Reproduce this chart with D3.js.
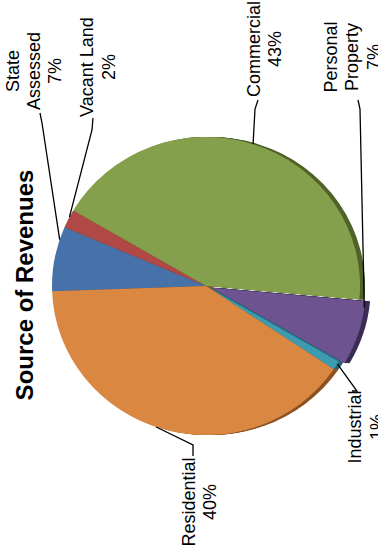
<!DOCTYPE html>
<html>
<head>
<meta charset="utf-8">
<script src="https://cdn.jsdelivr.net/npm/d3@7"></script>
<style>
  html, body { margin: 0; padding: 0; background: #fff; }
  svg { display: block; }
  text { font-family: "Liberation Sans", Arial, sans-serif; fill: #000; }
</style>
</head>
<body>
<svg id="chart" width="378" height="554"></svg>
<script>
// Revenue sources, in clockwise drawing order
const categories = ["State Assessed", "Vacant Land", "Commercial", "Personal Property", "Industrial", "Residential"];
const categoryLines = [["State", "Assessed"], ["Vacant Land"], ["Commercial"], ["Personal", "Property"], ["Industrial"], ["Residential"]];
const shares = [7, 2, 43, 7, 1, 40];
const faceColors = ["#4671a9", "#b04845", "#85a04c", "#6d5390", "#3c9bb0", "#da8841"];
const sideColors = ["#2b4a73", "#762d2b", "#4f6329", "#3b2c57", "#246877", "#8f5222"];
const exploded = ["Personal Property"];
const title = "Source of Revenues";

// Layout
const W = 378, H = 554;
const cx = 206, cy = 286, rx = 154, ry = 149;
const depth = 5;          // visible thickness of the tilted pie, to the right
const explodeBy = 6;
const startDeg = 268;     // d3 angle (clockwise from 12 o'clock) where the first slice starts

// Where each label sits (rotated text): centre along y, baseline x for each line,
// the point where its leader meets the text, a bend just before it, and where on
// the slice (fraction of its sweep) the leader touches the pie.
const labelLayout = {
  "State Assessed":    { y: 71,  xs: [19, 40, 61],  anchor: [40, 113], bend: [42, 123], frac: 0.8 },
  "Vacant Land":       { y: 67,  xs: [93, 115],     anchor: [93, 118], bend: [92, 130], frac: 0.6 },
  "Commercial":        { y: 49,  xs: [260, 281],    anchor: [258, 100], bend: [255, 109], frac: 0.5 },
  "Personal Property": { y: 57,  xs: [337, 358, 380], anchor: [358, 100], bend: [360, 109], frac: 0.1 },
  "Industrial":        { y: 427, xs: [361, 383],    anchor: [352, 391], bend: [357, 391], frac: 0.3 },
  "Residential":       { y: 502, xs: [195, 216],    anchor: [193, 456], bend: [193, 445], frac: 0.52 }
};

const data = categories.map((c, i) => ({
  name: c, lines: categoryLines[i], share: shares[i],
  face: faceColors[i], side: sideColors[i]
}));

const rad = d => d * Math.PI / 180;
const pie = d3.pie().sort(null).value(d => d.share)
  .startAngle(rad(startDeg)).endAngle(rad(startDeg + 360));
const arcs = pie(data);
const arc = d3.arc().innerRadius(0).outerRadius(ry);

const svg = d3.select("#chart");

// offset of a slice pulled out from the centre
function shift(a) {
  if (!exploded.includes(a.data.name)) return [0, 0];
  const m = (a.startAngle + a.endAngle) / 2;
  return [Math.sin(m) * explodeBy, -Math.cos(m) * explodeBy];
}
const sx = rx / ry;

// side walls: stacked copies, shifted right
const sideG = svg.append("g");
for (let k = depth; k >= 1; k--) {
  sideG.selectAll(null).data(arcs).join("path")
    .attr("transform", d => {
      const [ox, oy] = shift(d);
      return `translate(${cx + ox + k},${cy + oy}) scale(${sx},1)`;
    })
    .attr("d", arc)
    .attr("fill", d => d.data.side);
}

// top faces
svg.append("g").selectAll("path").data(arcs).join("path")
  .attr("transform", d => {
    const [ox, oy] = shift(d);
    return `translate(${cx + ox},${cy + oy}) scale(${sx},1)`;
  })
  .attr("d", arc)
  .attr("fill", d => d.data.face);

// leader lines from the slice rim to each label
const line = d3.line();
svg.append("g").selectAll("path").data(arcs).join("path")
  .attr("d", d => {
    const L = labelLayout[d.data.name];
    const a = d.startAngle + (d.endAngle - d.startAngle) * L.frac;
    const [ox, oy] = shift(d);
    const p = [cx + ox + Math.sin(a) * rx, cy + oy - Math.cos(a) * ry];
    return line([p, L.bend, L.anchor]);
  })
  .attr("fill", "none")
  .attr("stroke", "#000")
  .attr("stroke-width", 1.3);

// category labels, rotated to read upwards
const labels = svg.append("g").selectAll("g").data(arcs).join("g");
labels.each(function (d) {
  const L = labelLayout[d.data.name];
  const rows = d.data.lines.concat([d.data.share + "%"]);
  d3.select(this).selectAll("text").data(rows).join("text")
    .attr("transform", (t, i) => `translate(${L.xs[i]},${L.y}) rotate(-90)`)
    .attr("text-anchor", "middle")
    .attr("font-size", 18)
    .text(t => t);
});

// title
svg.append("text")
  .attr("transform", `translate(33,285) rotate(-90)`)
  .attr("text-anchor", "middle")
  .attr("font-size", 24)
  .attr("font-weight", "bold")
  .text(title);
</script>
</body>
</html>
